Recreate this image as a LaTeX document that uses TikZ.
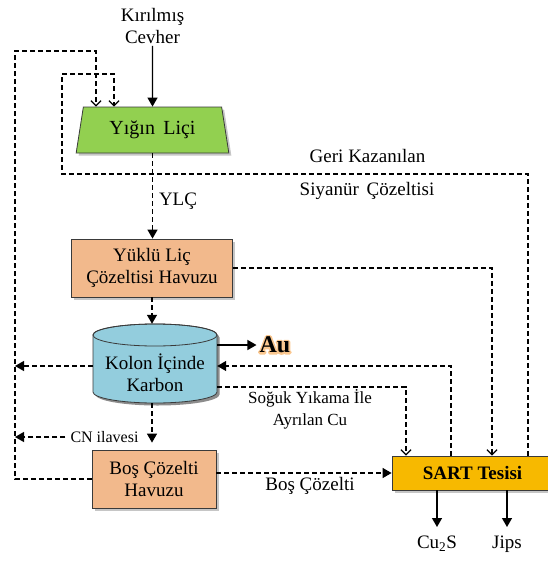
\documentclass[tikz,border=0pt]{standalone}
\usepackage{fontspec}
\setmainfont{Liberation Serif}
\usetikzlibrary{arrows.meta,shapes.geometric,shadows}

\definecolor{heapgreen}{HTML}{92D050}
\definecolor{poolpeach}{HTML}{F2B98C}
\definecolor{colblue}{HTML}{93CDDD}
\definecolor{sartgold}{HTML}{F7B900}
\definecolor{edgegray}{HTML}{3A3A3A}

% outlined (stroked-only) text, used for the soft halo behind a label
\newcommand{\halotext}[1]{\special{pdf:code q 1 Tr 3.6 w 1 j 1 J 0.98 0.78 0.56 RG}#1\special{pdf:code Q}}

\begin{document}
\begin{tikzpicture}[x=1pt,y=-1pt,
  txt/.style={font=\fontsize{19}{22}\selectfont, align=center, inner sep=0pt},
  small/.style={font=\fontsize{17}{22}\selectfont, align=center, inner sep=0pt},
  box/.style={draw=edgegray, line width=0.8pt, align=center, inner sep=0pt,
    font=\fontsize{19}{22}\selectfont,
    drop shadow={shadow xshift=2.5pt, shadow yshift=-2.5pt, opacity=.45}},
  flow/.style={line width=1.3pt, dash pattern=on 5pt off 3pt},
  solidflow/.style={line width=1.3pt},
  tipfill/.style={-{Triangle[length=9pt,width=10pt]}},
  tipbarb/.style={-{Straight Barb[length=5pt,width=10pt]}},
  prodfont/.style={font=\fontsize{24}{28}\selectfont\bfseries, inner sep=0pt}
]
\useasboundingbox (0,0) rectangle (547,562);

% ---- process units ----
\node[txt, inner ysep=2pt] (cevher) at (152.5,26) {Kırılmış\\Cevher};

\node[box, fill=heapgreen, trapezium, trapezium left angle=76,
      trapezium right angle=76, trapezium stretches=true,
      minimum width=153pt, minimum height=46pt,
      font=\fontsize{20}{24}\selectfont] (yigin) at (152.5,130) {Yığın\,\ Liçi};

\node[box, fill=poolpeach, minimum width=161pt, minimum height=58pt]
  (ylc) at (152,268) {Yüklü Liç\\Çözeltisi Havuzu};

% carbon column (cylinder)
\node[minimum width=124pt, minimum height=79pt, inner sep=0pt] (kolon) at (155,363.5) {};
\fill[black, opacity=.45, xshift=2.5pt, yshift=-2.5pt]
  (93,335) -- (93,392) arc[start angle=180, end angle=360, x radius=62pt, y radius=11pt]
  -- (217,335) arc[start angle=0, end angle=180, x radius=62pt, y radius=11pt] -- cycle;
\draw[draw=edgegray, line width=0.8pt, fill=colblue]
  (93,335) -- (93,392) arc[start angle=180, end angle=360, x radius=62pt, y radius=11pt]
  -- (217,335) arc[start angle=0, end angle=180, x radius=62pt, y radius=11pt] -- cycle;
\draw[draw=edgegray, line width=0.8pt] (155,335) ellipse[x radius=62pt, y radius=11pt];
\node[txt] (kolontxt) at (155,373) {Kolon İçinde\\Karbon};

\node[box, fill=poolpeach, minimum width=124pt, minimum height=58pt]
  (bos) at (154,479) {Boş Çözelti\\Havuzu};

\node[box, fill=sartgold, minimum width=161pt, minimum height=34pt,
      font=\fontsize{19}{22}\selectfont\bfseries] (sart) at (472.5,473) {SART Tesisi};

% ---- products ----
\node[prodfont] (auhalo) at (275,345) {\halotext{Au}};
\node[prodfont, inner xsep=3pt] (au) at (275,345) {Au};

\node[txt, anchor=north, inner ysep=9pt] (cu) at (437,527) {Cu\textsubscript{2}S};
\node[txt, anchor=north, inner ysep=9pt] (jips) at (507,527) {Jips};

% ---- labels ----
\node[txt] (ylclbl) at (178,201) {YLÇ};
\node[txt] (geri1) at (367.5,155.5) {Geri Kazanılan};
\node[txt] (geri2) at (367,191) {Siyanür\,\ Çözeltisi};
\node[small] (soguk) at (310,409) {Soğuk Yıkama İle\\Ayrılan Cu};
\node[txt] (boslbl) at (310,486) {Boş Çözelti};
\node[font=\fontsize{16}{20}\selectfont, inner ysep=0pt, inner xsep=5pt] (cn) at (104.5,437) {CN ilavesi};

% ---- routing points ----
\coordinate (busL) at (15,51);
\coordinate (busT) at (96,51);
\coordinate (geriR) at (528,174);
\coordinate (geriL) at (62,74);
\coordinate (geriT) at (114,74);
\coordinate (backUp) at (451,366);
\coordinate (cuTurn) at (406,387);
\coordinate (ylcTurn) at (492,268);

% ---- connectors ----
\draw[solidflow, tipfill] (cevher.south) -- (yigin.north);

% spent solution back to the heap
\draw[flow, tipbarb] (bos.west) -| (busL) -- (busT) -- (busT |- yigin.north);
% recovered cyanide solution back to the heap
\draw[flow, tipbarb] (sart.north -| geriR) -- (geriR) -- (geriR -| geriL) -- (geriL)
  -- (geriT) -- (geriT |- yigin.north);

\draw[flow, tipfill] (yigin.south) -- (yigin.south |- ylc.north);
\draw[flow, tipbarb] (ylc.east |- ylcTurn) -- (ylcTurn) -- (ylcTurn |- sart.north);
\draw[flow, tipfill] (ylc.south) -- (ylc.south |- kolon.north);

\draw[solidflow, tipfill] (kolon.east |- au.west) -- (au.west);
\draw[flow, tipfill] (kolon.west |- backUp) -- (busL |- backUp);
\draw[flow, tipfill] (sart.north -| backUp) -- (backUp) -- (kolon.east |- backUp);
\draw[flow, tipbarb] (kolon.east |- cuTurn) -- (cuTurn) -- (cuTurn |- sart.north);

\draw[flow, tipfill] (ylc.south |- kolon.south) -- ([yshift=7pt]ylc.south |- bos.north);
\draw[flow, tipfill] (cn.west) -- (busL |- cn.west);
\draw[flow, tipfill] (bos.east |- sart.west) -- (sart.west);

\draw[solidflow, tipfill] (sart.south -| cu.north) -- (cu.north);
\draw[solidflow, tipfill] (sart.south -| jips.north) -- (jips.north);
\end{tikzpicture}
\end{document}
